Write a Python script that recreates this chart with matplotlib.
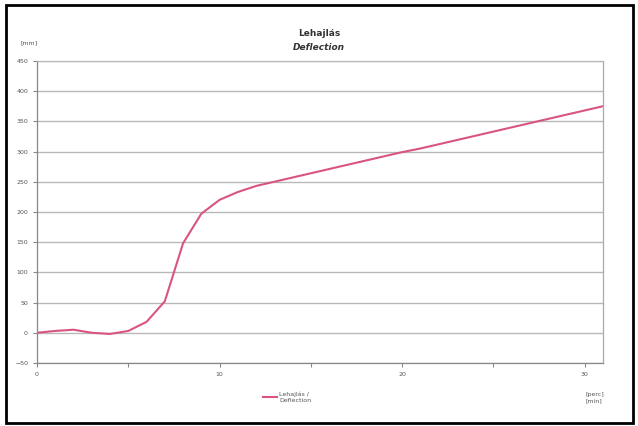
#!/usr/bin/env python3
"""Deflection vs time chart (Lehajlás / Deflection)."""
import matplotlib
matplotlib.use("Agg")
import matplotlib.pyplot as plt
from matplotlib.patches import Rectangle

TIME_MIN = [0, 1, 2, 3, 4, 5, 6, 7, 8, 9, 10, 11, 12, 13, 14, 15, 16,
            17, 18, 19, 20, 21, 22, 23, 24, 25, 26, 27, 28, 29, 30, 31]
DEFLECTION_MM = [0, 3, 5, 0, -2, 3, 18, 52, 148, 197, 220, 233, 243, 250,
                 257, 264, 271, 278, 285, 292, 299, 305, 312, 319, 326,
                 333, 340, 347, 354, 361, 368, 375]
Y_TICKS = list(range(-50, 451, 50))
X_MAJOR = [0, 10, 20, 30]
X_MINOR = [5, 15, 25]

LINE_COL = "#d9557f"
GRID_COL = "#b8b8b8"
TEXT_COL = "#555555"


def main() -> None:
    fig = plt.figure(figsize=(6.38, 4.26), dpi=100)
    ax = fig.add_axes([0.058, 0.148, 0.887, 0.709])

    ax.plot(TIME_MIN, DEFLECTION_MM, color=LINE_COL, lw=1.5,
            label="Lehajlás /\nDeflection")

    ax.set_xlim(0, 31)
    ax.set_ylim(-50, 450)
    ax.set_yticks(Y_TICKS)
    ax.set_xticks(X_MAJOR)
    ax.set_xticks(X_MINOR, minor=True)
    ax.yaxis.grid(True, color=GRID_COL, lw=1.0)
    ax.set_axisbelow(True)
    for side in ("left", "bottom", "top", "right"):
        ax.spines[side].set_color("#888888")
        ax.spines[side].set_linewidth(0.9)
    ax.spines["top"].set_color(GRID_COL)
    ax.spines["right"].set_color("#aaaaaa")
    ax.tick_params(axis="both", labelsize=4.5, colors="#888888",
                   labelcolor=TEXT_COL, length=3, width=0.8)
    ax.tick_params(axis="x", which="minor", length=3, width=0.8,
                   colors="#888888")

    fig.text(0.5, 0.922, "Lehajlás", ha="center", va="center",
             fontsize=6.5, fontweight="bold", color="#333333")
    fig.text(0.5, 0.889, "Deflection", ha="center", va="center",
             fontsize=6.5, fontweight="bold", style="italic",
             color="#333333")
    fig.text(0.032, 0.900, "[mm]", ha="left", va="center", fontsize=4.5,
             color=TEXT_COL)
    fig.text(0.918, 0.067, "[perc]\n[min]", ha="left", va="center",
             fontsize=4.5, color=TEXT_COL, linespacing=1.3)

    ax.legend(loc="center", bbox_to_anchor=(0.450, 0.067),
              bbox_transform=fig.transFigure, frameon=False,
              fontsize=4.5, handlelength=2.2, handletextpad=0.4,
              labelcolor=TEXT_COL)

    fig.patches.append(Rectangle((0.010, 0.008), 0.982, 0.980,
                                 transform=fig.transFigure, fill=False,
                                 edgecolor="black", lw=2.0))

    fig.savefig("out.png", dpi=100)


if __name__ == "__main__":
    main()
